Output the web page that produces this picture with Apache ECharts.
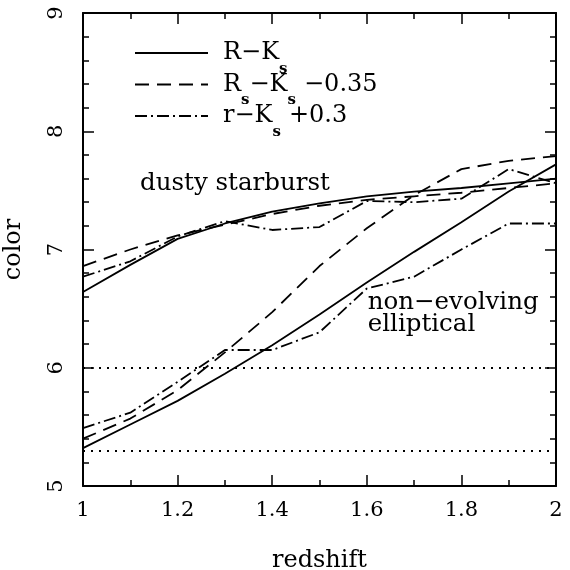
<!DOCTYPE html>
<html>
<head>
<meta charset="utf-8">
<script src="https://cdn.jsdelivr.net/npm/echarts@6/dist/echarts.min.js"></script>
<style>
  html, body { margin: 0; padding: 0; background: #fff; }
  #chart { width: 570px; height: 570px; }
</style>
</head>
<body>
<div id="chart"></div>
<script>
// Redshift grid shared by every colour track
const redshift = [1.0, 1.1, 1.2, 1.3, 1.4, 1.5, 1.6, 1.7, 1.8, 1.9, 2.0];

// Dusty starburst template
const starburstRK   = [6.64, 6.87, 7.09, 7.22, 7.32, 7.39, 7.45, 7.49, 7.52, 7.56, 7.60];
const starburstRsKs = [6.86, 7.00, 7.12, 7.21, 7.30, 7.37, 7.42, 7.45, 7.48, 7.52, 7.56];
const starburstrK   = [6.77, 6.90, 7.11, 7.24, 7.165, 7.19, 7.41, 7.40, 7.43, 7.68, 7.56];

// Non-evolving elliptical template
const ellipticalRK   = [5.32, 5.52, 5.72, 5.95, 6.19, 6.45, 6.72, 6.98, 7.23, 7.49, 7.72];
const ellipticalRsKs = [5.40, 5.57, 5.81, 6.13, 6.47, 6.86, 7.18, 7.46, 7.68, 7.75, 7.79];
const ellipticalrK   = [5.49, 5.62, 5.88, 6.15, 6.15, 6.30, 6.67, 6.77, 7.00, 7.22, 7.22];

// Colour cuts drawn as dotted horizontals
const colourCuts = [6.0, 5.3];

// Legend entries
const legendNames = ['R-Ks', 'Rs-Ks -0.35', 'r-Ks +0.3'];

// Text annotations placed in data space: [redshift, color, text]
const notes = [
  [1.1205, 7.554, 'dusty starburst'],
  [1.602, 6.455, 'non\u2212evolving\nelliptical']
];

const FONT = 'DejaVu Serif';

const lineStyles = {
  'R-Ks':        { type: 'solid' },
  'Rs-Ks -0.35': { type: [14, 8] },
  'r-Ks +0.3':   { type: [12, 4, 2, 4] }
};

function pair(xs, ys) { return xs.map((x, i) => [x, ys[i]]); }

function track(name, values, extra) {
  return Object.assign({
    name: name,
    type: 'line',
    xAxisIndex: 0,
    yAxisIndex: 0,
    data: pair(redshift, values),
    symbol: 'none',
    showSymbol: false,
    silent: true,
    lineStyle: Object.assign({ color: '#000', width: 1.8 }, lineStyles[name]),
    itemStyle: { color: '#000' },
    z: 3
  }, extra || {});
}

const legendRich = {
  m: { fontFamily: FONT, fontSize: 24, color: '#000' },
  t: { fontFamily: FONT, fontSize: 24, color: '#000', padding: [0, 0, 0, 8] },
  p: { fontFamily: FONT, fontSize: 24, color: '#000', padding: [0, 0, 0, 10] },
  s: { fontFamily: FONT, fontSize: 15, fontWeight: 'bold', color: '#000', padding: [32, 0, 0, 0] }
};

const legendFormat = {
  'R-Ks':        '{p|R\u2212K}{s|s}',
  'Rs-Ks -0.35': '{p|R}{s|s}{m|\u2212K}{s|s}{t|\u22120.35}',
  'r-Ks +0.3':   '{p|r\u2212K}{s|s}{t|+0.3}'
};

const axisCommon = {
  axisLine: { onZero: false, lineStyle: { color: '#000', width: 2 } },
  axisTick: { inside: true, length: 11, lineStyle: { color: '#000', width: 1.5 } },
  minorTick: { show: true, length: 6, lineStyle: { color: '#000', width: 1.5 } },
  splitLine: { show: false },
  minorSplitLine: { show: false }
};

function xAxisDef(pos, labels) {
  return Object.assign({}, axisCommon, {
    type: 'value', position: pos, min: 1, max: 2, interval: 0.2,
    minorTick: Object.assign({}, axisCommon.minorTick, { splitNumber: 2 }),
    axisLabel: labels ? {
      show: true, margin: 14, color: '#000', fontFamily: FONT, fontSize: 21,
      formatter: v => String(+v.toFixed(1))
    } : { show: false },
    name: labels ? 'redshift' : '',
    nameLocation: 'middle',
    nameGap: 63,
    nameTextStyle: { color: '#000', fontFamily: FONT, fontSize: 24 }
  });
}

function yAxisDef(pos, labels) {
  return Object.assign({}, axisCommon, {
    type: 'value', position: pos, min: 5, max: 9, interval: 1,
    minorTick: Object.assign({}, axisCommon.minorTick, { splitNumber: 5 }),
    axisLabel: labels ? {
      show: true, margin: 16, rotate: 90, color: '#000', fontFamily: FONT, fontSize: 21
    } : { show: false },
    name: labels ? 'color' : '',
    nameLocation: 'middle',
    nameGap: 57,
    nameTextStyle: { color: '#000', fontFamily: FONT, fontSize: 24 }
  });
}

const chart = echarts.init(document.getElementById('chart'), null, { renderer: 'canvas' });

chart.setOption({
  animation: false,
  backgroundColor: '#fff',
  grid: { left: 83, right: 14, top: 13, bottom: 84, containLabel: false, outerBoundsMode: 'none' },
  xAxis: [xAxisDef('bottom', true), xAxisDef('top', false)],
  yAxis: [yAxisDef('left', true), yAxisDef('right', false)],
  legend: {
    data: legendNames,
    orient: 'vertical',
    left: 129,
    top: 36,
    itemWidth: 73,
    itemHeight: 16,
    itemGap: -4,
    selectedMode: false,
    inactiveColor: '#000',
    itemStyle: { color: 'rgba(0,0,0,0)', borderColor: 'rgba(0,0,0,0)', borderWidth: 0, opacity: 0 },
    formatter: n => legendFormat[n],
    textStyle: { rich: legendRich, color: '#000' }
  },
  series: [
    track('R-Ks', starburstRK, {
      markLine: {
        silent: true,
        symbol: 'none',
        label: { show: false },
        lineStyle: { color: '#000', width: 2, type: [2, 6] },
        data: colourCuts.map(v => ({ yAxis: v }))
      }
    }),
    track('Rs-Ks -0.35', starburstRsKs),
    track('r-Ks +0.3', starburstrK),
    track('R-Ks', ellipticalRK),
    track('Rs-Ks -0.35', ellipticalRsKs),
    track('r-Ks +0.3', ellipticalrK),
    {
      name: 'notes',
      type: 'scatter',
      silent: true,
      symbolSize: 0,
      itemStyle: { color: '#000' },
      data: notes.map(n => ({ value: [n[0], n[1]], text: n[2] })),
      label: {
        show: true,
        position: 'right',
        distance: 0,
        color: '#000',
        opacity: 1,
        fontFamily: FONT,
        fontSize: 24.5,
        lineHeight: 22,
        align: 'left',
        formatter: p => p.data.text
      },
      z: 5
    }
  ]
});
</script>
</body>
</html>
